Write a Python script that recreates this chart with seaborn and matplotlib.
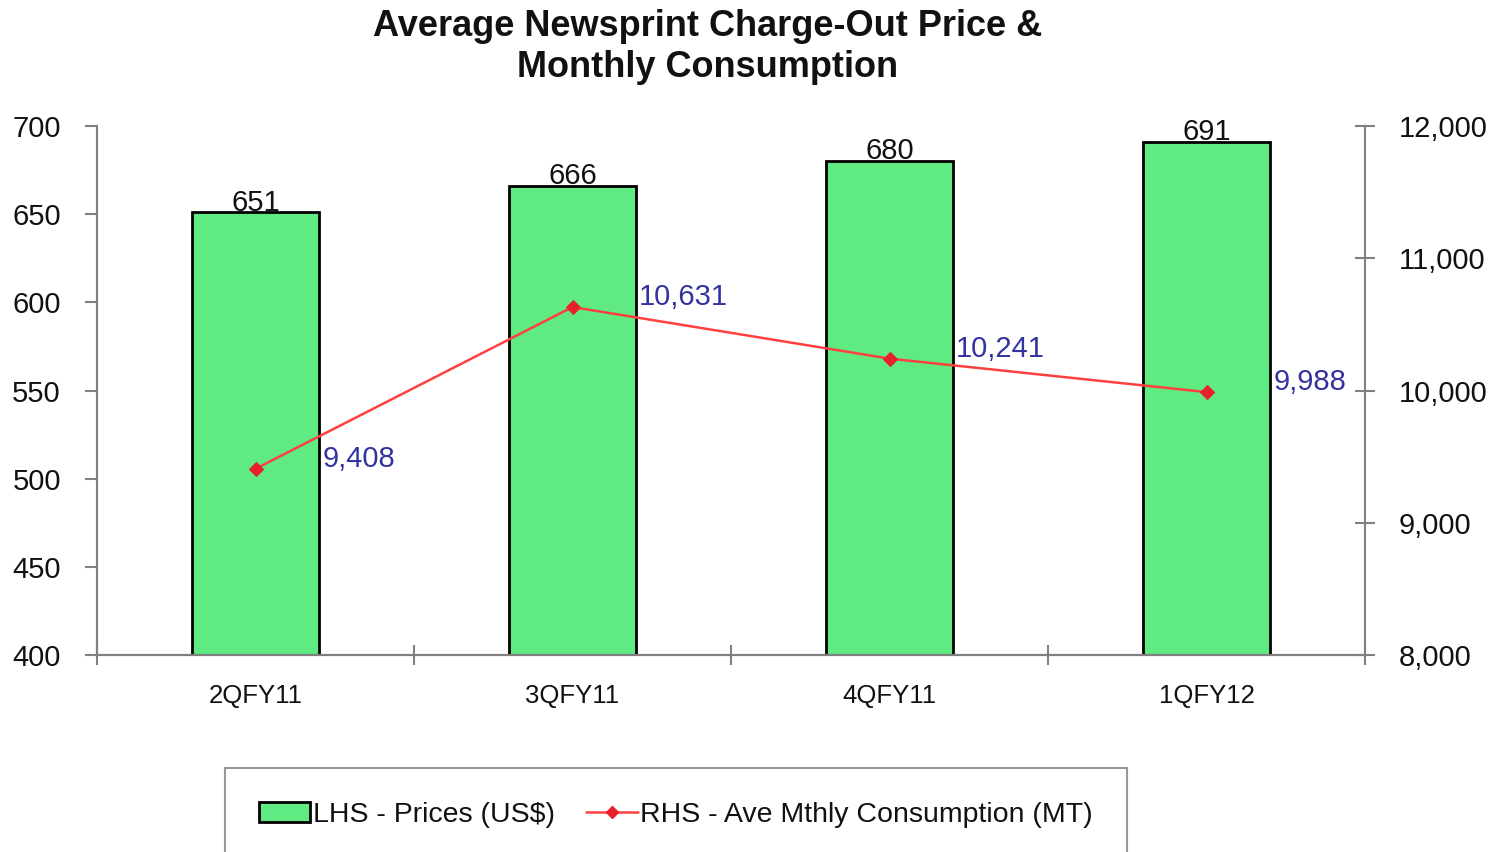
import seaborn as sns
import matplotlib.pyplot as plt
import pandas as pd
from matplotlib.lines import Line2D
from matplotlib.patches import Patch
from matplotlib.ticker import FuncFormatter

quarters = ['2QFY11', '3QFY11', '4QFY11', '1QFY12']
prices = [651, 666, 680, 691]
consumption = [9408, 10631, 10241, 9988]

df = pd.DataFrame({'quarter': quarters, 'price': prices, 'cons': consumption})

sns.set_style("white")
plt.rcParams['font.family'] = ['Liberation Sans', 'DejaVu Sans']

green = '#5FEA82'
red = '#FF4040'
navy = '#3333A0'
grey = '#808080'

fig = plt.figure(figsize=(14.97, 8.52), dpi=100)
ax = fig.add_axes([97/1497, 1 - 655/852, (1365 - 97)/1497, (655 - 126)/852])

sns.barplot(data=df, x='quarter', y='price', color=green, width=0.4,
            edgecolor='black', linewidth=2, saturation=1, ax=ax)
ax.set_ylim(400, 700)
ax.set_yticks(range(400, 701, 50))
ax.set_xlim(-0.5, 3.5)
for c in ax.containers:
    ax.bar_label(c, fontsize=21, padding=-3, color='#111111')

ax2 = ax.twinx()
sns.lineplot(data=df, x='quarter', y='cons', color=red, marker='D',
             markersize=7, markeredgecolor='#E8202A', markerfacecolor='#E8202A',
             linewidth=1.8, ax=ax2)
ax2.set_ylim(8000, 12000)
ax2.set_yticks(range(8000, 12001, 1000))
ax2.yaxis.set_major_formatter(FuncFormatter(lambda v, p: f'{int(v):,}'))
for i, v in enumerate(consumption):
    ax2.annotate(f'{v:,}', (i, v), xytext=(48, 7), textcoords='offset points',
                 ha='left', va='center', color=navy, fontsize=21)

ax.set_xlabel('')
ax.set_ylabel('')
ax2.set_ylabel('')

for a in (ax, ax2):
    a.spines['top'].set_visible(False)
    for s in ('left', 'right', 'bottom'):
        a.spines[s].set_color(grey)
        a.spines[s].set_linewidth(1.5)
ax.spines['right'].set_visible(False)

ax.tick_params(axis='y', direction='out', length=9, width=1.5, color=grey,
               labelsize=21, pad=17, left=True, labelcolor='#111111')
ax2.tick_params(axis='y', direction='inout', length=14, width=1.5, color=grey,
                labelsize=21, pad=17, right=True, labelcolor='#111111')
ax.set_xticks(range(4))
ax.set_xticklabels(quarters)
ax.tick_params(axis='x', length=0, labelsize=18.5, pad=21, labelcolor='#111111')
ax.set_xticks([-0.5, 0.5, 1.5, 2.5, 3.5], minor=True)
ax.tick_params(axis='x', which='minor', direction='inout', length=14,
               width=1.5, color=grey, bottom=True)

fig.text(708/1497, 1 - 47/852, 'Average Newsprint Charge-Out Price &\nMonthly Consumption',
         ha='center', va='center', fontsize=26, fontweight='bold', linespacing=1.25,
         color='#111111')

handles = [Patch(facecolor=green, edgecolor='black', linewidth=2),
           Line2D([0], [0], color=red, marker='D', markersize=6,
                  markerfacecolor='#E8202A', markeredgecolor='#E8202A', linewidth=1.8)]
leg = fig.legend(handles, ['LHS - Prices (US$)', 'RHS - Ave Mthly Consumption (MT)'],
                 loc='upper center', bbox_to_anchor=(676/1497, 1 - 768/852),
                 ncol=2, fontsize=20.5, frameon=True, fancybox=False,
                 borderpad=1.2, handlelength=1.8, handletextpad=0.1,
                 columnspacing=1.1, borderaxespad=0)
leg.get_frame().set_edgecolor(grey)
leg.get_frame().set_linewidth(1.5)
for t in leg.get_texts():
    t.set_color('#111111')

fig.savefig('out.png', dpi=100)
